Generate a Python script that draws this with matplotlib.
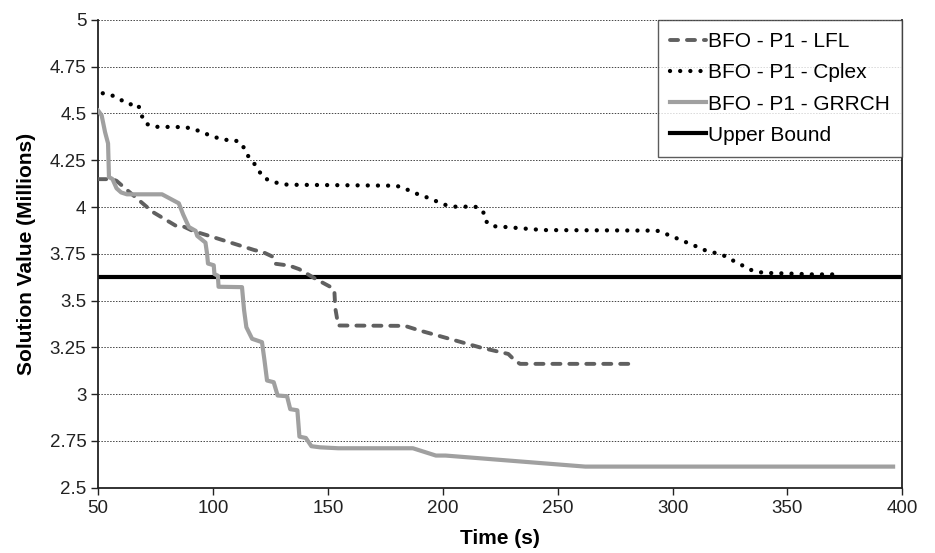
import matplotlib
matplotlib.use("Agg")
import matplotlib.pyplot as plt
import numpy as np

plt.rcParams['font.family'] = ['Liberation Sans', 'DejaVu Sans']

# LFL series (time in s, value in millions)
lfl_t = [50, 56.2, 58, 62.1, 73.7, 83.8, 87.5, 91.1, 98.3, 118, 121.6, 125.9, 127.1,
         133.2, 137.5, 144.8, 151.3, 152.8, 153.2, 154.5, 183.5, 190, 201.7, 216.2,
         228.5, 231.4, 233.6, 281.5]
lfl_v = [4.149, 4.149, 4.14, 4.096, 3.974, 3.90, 3.894, 3.873, 3.846, 3.77, 3.76, 3.735,
         3.697, 3.687, 3.668, 3.615, 3.572, 3.554, 3.46, 3.367, 3.365, 3.34, 3.30, 3.25,
         3.215, 3.18, 3.162, 3.162]

# Cplex series
cplex_t = [52, 55.8, 59.6, 63.1, 67.4, 68.6, 70.5, 74.3, 87.8, 92.1, 96.3, 100.5, 104.7,
           109.2, 112.7, 114.3, 117.1, 119.6, 122, 125.9, 130.3, 134.8, 179.8, 184,
           188.2, 192.4, 196.6, 201, 205.4, 214.1, 217.5, 218.5, 221.3, 225.6, 234.6,
           243.6, 293.2, 297.2, 301.4, 305.7, 309.9, 314, 318.2, 322.4, 326.5, 330.4,
           334.5, 338.5, 343, 352.2, 361.1, 370]
cplex_v = [4.608, 4.598, 4.575, 4.549, 4.549, 4.498, 4.447, 4.429, 4.427, 4.415, 4.394,
           4.375, 4.359, 4.359, 4.338, 4.286, 4.248, 4.2, 4.156, 4.136, 4.121, 4.119,
           4.114, 4.096, 4.073, 4.055, 4.034, 4.012, 4.002, 4.002, 3.98, 3.927, 3.898,
           3.895, 3.886, 3.877, 3.874, 3.856, 3.835, 3.813, 3.792, 3.77, 3.756, 3.74,
           3.713, 3.688, 3.662, 3.651, 3.647, 3.644, 3.64, 3.64]

# GRRCH series
grrch_t = [50, 51.5, 53.0, 54.3, 54.7, 56.2, 58, 60, 62.5, 77.8, 85.1, 87, 89.5, 92.4,
           93.1, 96.7, 97.4, 97.8, 100.3, 100.6, 102.1, 102.4, 112.6, 113.5, 114.5, 117,
           121.3, 122.4, 123.5, 126.4, 128.1, 132.2, 133.6, 136.7, 137.6, 140.4, 142.8,
           146.6, 154.5, 187.0, 197.0, 201.2, 262.0, 396]
grrch_v = [4.515, 4.49, 4.40, 4.34, 4.16, 4.15, 4.10, 4.078, 4.068, 4.068, 4.02, 3.96,
           3.893, 3.873, 3.846, 3.81, 3.75, 3.698, 3.689, 3.642, 3.633, 3.574, 3.572,
           3.45, 3.358, 3.296, 3.278, 3.18, 3.073, 3.064, 2.993, 2.989, 2.92, 2.914,
           2.773, 2.766, 2.722, 2.716, 2.711, 2.711, 2.672, 2.672, 2.613, 2.613]

upper_bound = 3.626

x_ticks = [50, 100, 150, 200, 250, 300, 350, 400]
y_ticks = [2.5, 2.75, 3, 3.25, 3.5, 3.75, 4, 4.25, 4.5, 4.75, 5]

fig = plt.figure(figsize=(9.35, 5.53), dpi=100)
ax = fig.add_axes([0.105, 0.118, 0.86, 0.846])

for y in y_ticks[1:]:
    ax.axhline(y, color='#444444', lw=0.7, ls=(0, (1.5, 1.5)), zorder=1)

ax.plot(lfl_t, lfl_v, color='#606060', lw=2.8, ls=(0, (2.07, 2.29)),
        dash_capstyle='round', label='BFO - P1 - LFL', zorder=3)
ax.plot(cplex_t, cplex_v, color='black', lw=3.1, ls=(0, (0.01, 2.35)),
        dash_capstyle='round', label='BFO - P1 - Cplex', zorder=3)
ax.plot(grrch_t, grrch_v, color='#a0a0a0', lw=3, solid_joinstyle='round',
        label='BFO - P1 - GRRCH', zorder=3)
ax.plot([50, 400], [upper_bound, upper_bound], color='black', lw=3,
        label='Upper Bound', zorder=2)

ax.set_xlim(50, 400)
ax.set_ylim(2.5, 5)
ax.set_xticks(x_ticks)
ax.set_yticks(y_ticks)
ax.set_yticklabels(['%g' % v for v in y_ticks])
ax.tick_params(labelsize=13.5, length=5, width=1, colors='#222222', direction='out')

ax.spines['top'].set_visible(False)
for s in ['left', 'bottom', 'right']:
    ax.spines[s].set_color('#222222')
    ax.spines[s].set_linewidth(1.3)

ax.set_xlabel('Time (s)', fontsize=15, fontweight='bold', labelpad=9)
ax.set_ylabel('Solution Value (Millions)', fontsize=15, fontweight='bold', labelpad=10)

leg = ax.legend(loc='upper right', bbox_to_anchor=(1.0, 1.0), fontsize=15,
                frameon=True, fancybox=False, handlelength=1.7, handletextpad=0.1,
                labelspacing=0.58, borderpad=0.6, borderaxespad=0)
leg.get_frame().set_edgecolor('#333333')
leg.get_frame().set_linewidth(1)

plt.savefig('out.png', dpi=100)
